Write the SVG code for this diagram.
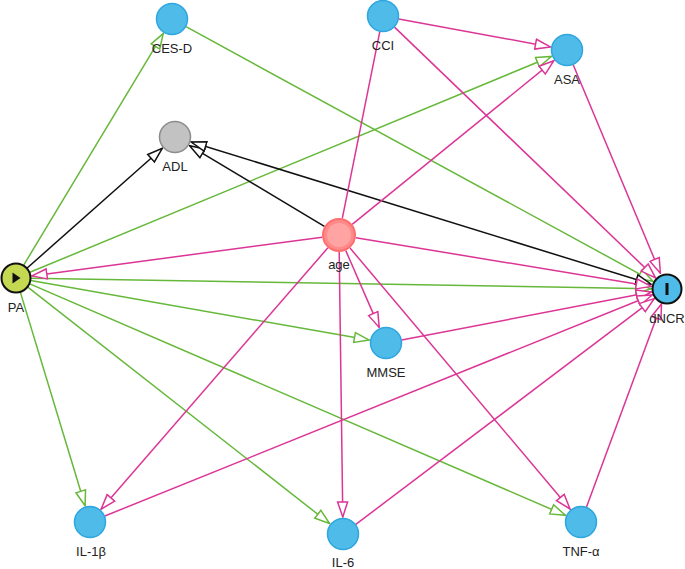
<svg xmlns="http://www.w3.org/2000/svg" width="685" height="569" viewBox="0 0 685 569">
<style>
.g{stroke:#66b83a;stroke-width:1.5;fill:none}
.p{stroke:#dc3596;stroke-width:1.5;fill:none}
.k{stroke:#111;stroke-width:1.5;fill:none}
.g{marker-end:url(#mg)}
.p{marker-end:url(#mp)}
.k{marker-end:url(#mk)}
.plain{marker-end:none}
.lbl{font-family:"Liberation Sans",Arial,sans-serif;font-size:13px;fill:#222;text-anchor:middle}
.blue{fill:#4fbbe8;stroke:#2ea6df;stroke-width:1.5}
</style>
<defs>
<marker id="mg" markerUnits="userSpaceOnUse" markerWidth="17" markerHeight="13" viewBox="0 0 17 13" refX="16" refY="6.5" orient="auto-start-reverse"><path d="M1,1.5 L16,6.5 L1,11.5 Z" fill="#fff" stroke="#66b83a" stroke-width="1.5"/></marker>
<marker id="mp" markerUnits="userSpaceOnUse" markerWidth="17" markerHeight="13" viewBox="0 0 17 13" refX="16" refY="6.5" orient="auto-start-reverse"><path d="M1,1.5 L16,6.5 L1,11.5 Z" fill="#fff" stroke="#dc3596" stroke-width="1.5"/></marker>
<marker id="mk" markerUnits="userSpaceOnUse" markerWidth="17" markerHeight="13" viewBox="0 0 17 13" refX="16" refY="6.5" orient="auto-start-reverse"><path d="M1,1.5 L16,6.5 L1,11.5 Z" fill="#fff" stroke="#111" stroke-width="1.5"/></marker>
</defs>
<g id="connectors">
<line class="g" x1="23.7" y1="265.1" x2="163.2" y2="33.6"/>
<line class="g" x1="186" y1="26.7" x2="653" y2="281.3"/>
<line class="g" x1="29.9" y1="272.3" x2="551.3" y2="56.5"/>
<line class="g" x1="31" y1="278.3" x2="651" y2="288.7"/>
<line class="g" x1="30.8" y1="280.6" x2="369.3" y2="340.1"/>
<line class="g" x1="20.4" y1="292.4" x2="85.1" y2="505.7"/>
<line class="g" x1="27.8" y1="287.2" x2="329.6" y2="523.5"/>
<line class="g" x1="29.8" y1="283.9" x2="565.4" y2="515.3"/>
<line class="k" x1="27.2" y1="268" x2="162.3" y2="148.3"/>
<line class="k" x1="324.4" y1="226.3" x2="189.6" y2="145.7"/>
<line class="k" x1="191.2" y1="142" x2="650.8" y2="284" marker-start="url(#mk)"/>
<line class="p" x1="322.1" y1="237.2" x2="31.9" y2="275.9"/>
<line class="p" x1="352.2" y1="224.3" x2="553.8" y2="60.7"/>
<line class="p" x1="355.8" y1="237.8" x2="651.2" y2="286.4"/>
<line class="p" x1="345.8" y1="250.6" x2="379.2" y2="327.4"/>
<line class="p" x1="327.9" y1="247.8" x2="101.1" y2="509.2"/>
<line class="p" x1="339.2" y1="252" x2="342.8" y2="517"/>
<line class="p" x1="350" y1="248" x2="570" y2="509"/>
<line class="p" x1="398.7" y1="18.9" x2="550.3" y2="46.9"/>
<line class="p" x1="394.5" y1="27.1" x2="655.5" y2="277.9"/>
<line class="p plain" x1="342.3" y1="218.3" x2="379.8" y2="31.7"/>
<line class="p" x1="573.2" y1="64.8" x2="660.4" y2="273.3"/>
<line class="p" x1="401.7" y1="340" x2="651.3" y2="292"/>
<line class="p" x1="104.8" y1="516" x2="652.2" y2="295"/>
<line class="p" x1="355.8" y1="524.4" x2="654.2" y2="298.6"/>
<line class="p" x1="586.5" y1="507" x2="661.5" y2="304"/>
</g>
<g id="node-CESD"><circle class="blue" cx="172" cy="19" r="15.5"/><text class="lbl" x="172" y="53">CES-D</text></g>
<g id="node-CCI"><circle class="blue" cx="383" cy="16" r="15.5"/><text class="lbl" x="383" y="50">CCI</text></g>
<g id="node-ASA"><circle class="blue" cx="567" cy="50" r="15.5"/><text class="lbl" x="567" y="84">ASA</text></g>
<g id="node-ADL"><circle cx="175" cy="137" r="15.5" fill="#c2c2c2" stroke="#8c8c8c" stroke-width="1.5"/><text class="lbl" x="175" y="171">ADL</text></g>
<g id="node-age"><circle cx="339" cy="235" r="16" fill="#ff8a8a" stroke="#ff6e6e" stroke-width="2"/><circle cx="339" cy="235" r="12" fill="#ffa3a3"/><text class="lbl" x="339" y="269">age</text></g>
<g id="node-PA"><circle cx="16" cy="278" r="14.5" fill="#c5d852" stroke="#111" stroke-width="2"/><path d="M12.5,272.5 L20.5,278 L12.5,283.5 Z" fill="#111"/><text class="lbl" x="16" y="312">PA</text></g>
<g id="node-dNCR"><circle cx="667" cy="289" r="14.5" fill="#4fbbe8" stroke="#111" stroke-width="2"/><rect x="665.5" y="283" width="3" height="12" fill="#111"/><text class="lbl" x="667" y="323">dNCR</text></g>
<g id="node-MMSE"><circle class="blue" cx="386" cy="343" r="15.5"/><text class="lbl" x="386" y="377">MMSE</text></g>
<g id="node-IL1b"><circle class="blue" cx="90" cy="522" r="15.5"/><text class="lbl" x="91" y="556">IL-1β</text></g>
<g id="node-IL6"><circle class="blue" cx="343" cy="534" r="15.5"/><text class="lbl" x="343" y="567">IL-6</text></g>
<g id="node-TNFa"><circle class="blue" cx="581" cy="522" r="15.5"/><text class="lbl" x="581" y="556">TNF-α</text></g>
</svg>
